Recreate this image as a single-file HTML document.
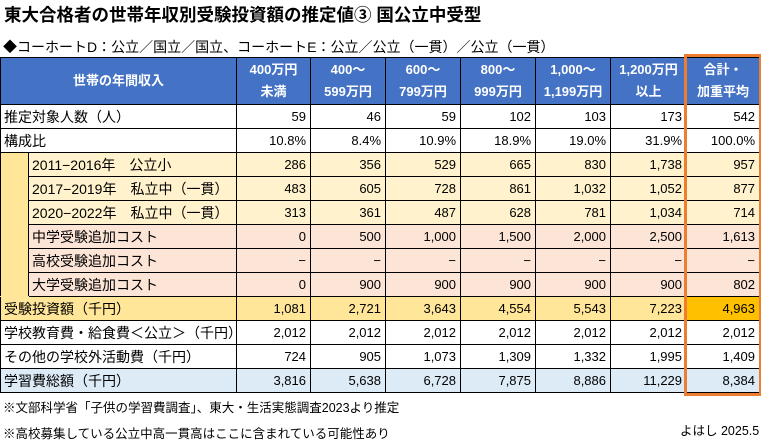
<!DOCTYPE html>
<html><head><meta charset="utf-8"><style>
body{margin:0;width:761px;height:441px;background:#fff;font-family:"Liberation Sans","Noto Sans CJK JP",sans-serif;position:relative;overflow:hidden;color:#000}
.t{position:absolute;left:4px;top:2px;font-size:17.5px;font-weight:bold;white-space:nowrap}
.s{position:absolute;left:3px;top:37px;font-size:14px;white-space:nowrap}
table{position:absolute;left:0;top:57px;width:759px;border-collapse:collapse;table-layout:fixed;font-size:13px}
td{height:23px;padding:0 4px;border:1px solid #000;white-space:nowrap;text-align:right;overflow:hidden}
td.l{text-align:left;font-size:14px;padding-left:3px}
tr.h td{height:46px;background:#4472C4;color:#fff;font-weight:bold;text-align:center;font-size:13px;line-height:22px;padding:0}
.dt td{border-bottom:1px dotted #000}
.y td{background:#FFF2CC}.p td{background:#FCE4D6}
td.ind{background:#FFE699!important;border-bottom:1px solid #FFE699}
.g td{background:#FFE699}.b td{background:#DDEBF7}
td.hl{background:#FFC000}
.box{position:absolute;left:684px;top:54px;width:72px;height:336px;border:3px solid #ED7D31}
.f{position:absolute;left:3px;font-size:12.5px;white-space:nowrap}
</style></head><body>
<div class="t">東大合格者の世帯年収別受験投資額の推定値③ 国公立中受型</div>
<div class="s">◆コーホートD：公立／国立／国立、コーホートE：公立／公立（一貫）／公立（一貫）</div>
<table>
<colgroup><col style="width:28px"><col style="width:208px"><col style="width:74px"><col style="width:75px"><col style="width:75px"><col style="width:75px"><col style="width:75px"><col style="width:76px"><col style="width:73px"></colgroup>
<tr class="h"><td colspan="2">世帯の年間収入</td><td>400万円<br>未満</td><td>400～<br>599万円</td><td>600～<br>799万円</td><td>800～<br>999万円</td><td>1,000～<br>1,199万円</td><td>1,200万円<br>以上</td><td>合計・<br>加重平均</td></tr>
<tr class="dt"><td class="l" colspan="2">推定対象人数（人）</td><td>59</td><td>46</td><td>59</td><td>102</td><td>103</td><td>173</td><td>542</td></tr>
<tr><td class="l" colspan="2">構成比</td><td>10.8%</td><td>8.4%</td><td>10.9%</td><td>18.9%</td><td>19.0%</td><td>31.9%</td><td>100.0%</td></tr>
<tr class="y dt"><td class="ind" rowspan="6"></td><td class="l">2011−2016年　公立小</td><td>286</td><td>356</td><td>529</td><td>665</td><td>830</td><td>1,738</td><td>957</td></tr>
<tr class="y dt"><td class="l">2017−2019年　私立中（一貫）</td><td>483</td><td>605</td><td>728</td><td>861</td><td>1,032</td><td>1,052</td><td>877</td></tr>
<tr class="y"><td class="l">2020−2022年　私立中（一貫）</td><td>313</td><td>361</td><td>487</td><td>628</td><td>781</td><td>1,034</td><td>714</td></tr>
<tr class="p dt"><td class="l">中学受験追加コスト</td><td>0</td><td>500</td><td>1,000</td><td>1,500</td><td>2,000</td><td>2,500</td><td>1,613</td></tr>
<tr class="p dt"><td class="l">高校受験追加コスト</td><td>−</td><td>−</td><td>−</td><td>−</td><td>−</td><td>−</td><td>−</td></tr>
<tr class="p"><td class="l">大学受験追加コスト</td><td>0</td><td>900</td><td>900</td><td>900</td><td>900</td><td>900</td><td>802</td></tr>
<tr class="g"><td class="l" colspan="2">受験投資額（千円）</td><td>1,081</td><td>2,721</td><td>3,643</td><td>4,554</td><td>5,543</td><td>7,223</td><td class="hl">4,963</td></tr>
<tr><td class="l" colspan="2">学校教育費・給食費＜公立＞（千円）</td><td>2,012</td><td>2,012</td><td>2,012</td><td>2,012</td><td>2,012</td><td>2,012</td><td>2,012</td></tr>
<tr><td class="l" colspan="2">その他の学校外活動費（千円）</td><td>724</td><td>905</td><td>1,073</td><td>1,309</td><td>1,332</td><td>1,995</td><td>1,409</td></tr>
<tr class="b"><td class="l" colspan="2">学習費総額（千円）</td><td>3,816</td><td>5,638</td><td>6,728</td><td>7,875</td><td>8,886</td><td>11,229</td><td>8,384</td></tr>
</table>
<div class="box"></div>
<div class="f" style="top:397px">※文部科学省「子供の学習費調査」、東大・生活実態調査2023より推定</div>
<div class="f" style="top:423px">※高校募集している公立中高一貫高はここに含まれている可能性あり</div>
<div class="f" style="left:680px;top:420px">よはし 2025.5</div>
</body></html>
